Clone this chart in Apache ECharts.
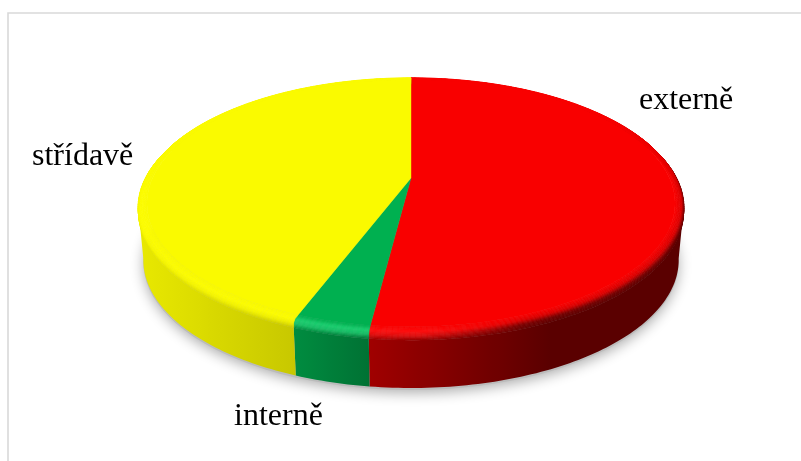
<!DOCTYPE html>
<html>
<head>
<meta charset="utf-8">
<style>html,body{margin:0;padding:0;background:#fff;overflow:hidden}#c{width:801px;height:461px}</style>
<script src="https://cdn.jsdelivr.net/npm/echarts@6/dist/echarts.min.js"></script>
</head>
<body>
<div id="c"></div>
<script>
// --- data ---
const categories = ['externě', 'interně', 'střídavě'];
const values = [52, 3.75, 44.25];

// --- style / layout ---
const topColors = ['#f90000', '#00b050', '#fafa00'];
const highlightColors = ['#ff1414', '#22d878', '#ffff00'];
const labelAnchors = [[639, 85], [234, 401], [32, 141]];
const G = { cx: 411, apexY: 178, R: 267, S: 122.3, k: -0.211, depth: 55, baseScale: 0.98 };
const STEP = 1 * Math.PI / 180;

const total = values.reduce((a, b) => a + b, 0);
const starts = [];
values.reduce((acc, v, i) => { starts[i] = acc; return acc + v; }, 0);

function hex(c) { return [1, 3, 5].map(i => parseInt(c.substr(i, 2), 16)); }
function mix(a, b, t) { return a.map((v, i) => v + (b[i] - v) * t); }
function css(c) { return 'rgb(' + c.map(v => Math.round(Math.min(255, Math.max(0, v)))).join(',') + ')'; }
function clamp(t) { return Math.max(0, Math.min(1, t)); }

function project(theta, r, z) {
  const u = r * Math.sin(theta), v = -r * Math.cos(theta);
  const w = 1 + G.k * v;
  const s = 1 + (G.baseScale - 1) * z;
  return [G.cx + s * G.R * u / w, G.apexY + G.S * v / w + z * G.depth];
}
const MX = [[138, .93], [293, .80], [371, .64], [500, .44], [550, .36], [800, .36]];
function wallMult(x) {
  if (x <= MX[0][0]) return MX[0][1];
  for (let i = 1; i < MX.length; i++) {
    if (x <= MX[i][0]) {
      const t = (x - MX[i - 1][0]) / (MX[i][0] - MX[i - 1][0]);
      return MX[i - 1][1] + (MX[i][1] - MX[i - 1][1]) * t;
    }
  }
  return .36;
}
function wallCol(x, i) { return hex(topColors[i]).map(v => v * wallMult(x)); }
function ringColor(kind, x, i, theta) {
  const top = hex(topColors[i]), hl = hex(highlightColors[i]);
  const wall = wallCol(x, i);
  const hi = clamp((520 - x) / 100);
  const c = Math.cos(theta);
  const front = clamp(0.3 - c);
  if (kind === 0) return top;
  if (kind === 1) return mix(mix(top, wall, (1 - hi) * 0.2 * clamp(1 - c * 1.6)), hl, hi * 0.75 * front);
  if (kind === 2) return mix(mix(top, wall, 0.85 * clamp(1 - c)), mix(hl, wall, 0.3), hi);
  return wall;
}
const rings = [
  { r: .968, z: 0, kind: 0 },
  { r: .99, z: 0, kind: 1 },
  { r: 1, z: .045, kind: 2 },
  { r: 1, z: .13, kind: 3 }
];
function lerpRing(a, b, t) {
  return { r: a.r + (b.r - a.r) * t, z: a.z + (b.z - a.z) * t };
}
function renderItem(params, api) {
  const i = params.dataIndex;
  const value = api.value(0);
  const a0 = starts[i] / total * 2 * Math.PI;
  const a1 = a0 + value / total * 2 * Math.PI;
  const n = Math.max(1, Math.ceil((a1 - a0) / STEP));
  const children = [];
  if (i === 0) {
    // soft shadow under the disc
    const pts = [];
    for (let j = 0; j < 120; j++) {
      const p = project(j / 120 * 2 * Math.PI, 1, 1);
      pts.push([p[0], p[1] + 2]);
    }
    children.push({ type: 'polygon', shape: { points: pts }, style: { fill: '#bbb', shadowBlur: 13, shadowColor: 'rgba(0,0,0,0.32)', shadowOffsetY: 3 } });
  }
  // wall: one polygon per slice, cut at the silhouette tangent, with a horizontal gradient
  const upper = [], lower = [];
  for (let j = 0; j <= n; j++) {
    const t = a0 + (a1 - a0) * j / n;
    if (Math.cos(t) > -0.19) continue;
    upper.push(project(t, 1, .13));
    lower.unshift(project(t, 1, 1));
  }
  if (upper.length > 1) {
    const x0 = 100, x1 = 700;
    const stops = [];
    for (let x = x0; x <= x1; x += 10) stops.push({ offset: (x - x0) / (x1 - x0), color: css(wallCol(x, i)) });
    children.push({
      type: 'polygon',
      shape: { points: upper.concat(lower) },
      style: { fill: new echarts.graphic.LinearGradient(x0, 0, x1, 0, stops, true) }
    });
  }
  // bevel bands from the outside inwards so inner bands paint over outer ones
  for (let b = rings.length - 2; b >= 0; b--) {
    const A = rings[b], B = rings[b + 1];
    const subs = 4;
    for (let s = subs - 1; s >= 0; s--) {
      const ra = lerpRing(A, B, s / subs), rb = lerpRing(A, B, (s + 1) / subs);
      const tc = (s + .5) / subs;
      for (let j = 0; j < n; j++) {
        const t0 = a0 + (a1 - a0) * j / n, t1 = a0 + (a1 - a0) * (j + 1) / n;
        const mid = (t0 + t1) / 2;
        const pm = project(mid, 1, 0);
        const col = css(mix(ringColor(A.kind, pm[0], i, mid), ringColor(B.kind, pm[0], i, mid), tc));
        children.push({
          type: 'polygon',
          shape: { points: [project(t0, ra.r, ra.z), project(t1, ra.r, ra.z), project(t1, rb.r, rb.z), project(t0, rb.r, rb.z)] },
          style: { fill: col, stroke: col, lineWidth: 0.6 }
        });
      }
    }
  }
  // top face
  const face = [[G.cx, G.apexY]];
  for (let j = 0; j <= n; j++) {
    face.push(project(a0 + (a1 - a0) * j / n, rings[0].r, 0));
  }
  children.push({ type: 'polygon', shape: { points: face }, style: { fill: topColors[i], stroke: topColors[i], lineWidth: 0.4 } });
  return { type: 'group', children };
}
function renderLabel(params, api) {
  const i = params.dataIndex;
  return {
    type: 'text',
    style: {
      text: categories[i], x: labelAnchors[i][0], y: labelAnchors[i][1],
      font: '32px "Liberation Serif"', fill: '#000',
      textAlign: 'left', textVerticalAlign: 'top'
    }
  };
}

const chart = echarts.init(document.getElementById('c'), null, { renderer: 'canvas', width: 801, height: 461 });
chart.setOption({
  animation: false,
  backgroundColor: '#fff',
  tooltip: { show: false },
  graphic: [
    { type: 'rect', z: 0, shape: { x: 8, y: 13, width: 900, height: 600 }, style: { fill: '#fff', stroke: '#d9d9d9', lineWidth: 1.6 } }
  ],
  series: [
    { type: 'custom', coordinateSystem: 'none', silent: true, z: 2, renderItem, data: values.map((v, i) => ({ name: categories[i], value: [v] })) },
    { type: 'custom', coordinateSystem: 'none', silent: true, z: 3, renderItem: renderLabel, data: values.map((v, i) => ({ name: categories[i], value: [v] })) }
  ]
});
</script>
</body>
</html>
